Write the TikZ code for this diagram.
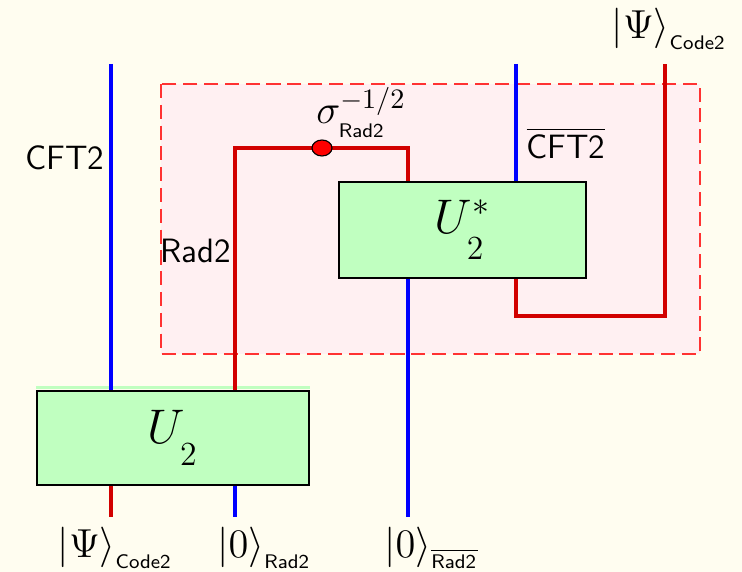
\documentclass[tikz,border=0pt]{standalone}
\usepackage{amsmath,amssymb}
\usepackage{tikz}
\usetikzlibrary{positioning,shapes.geometric}

\definecolor{bgcream}{RGB}{255,253,240}
\definecolor{boxgreen}{RGB}{192,255,192}
\definecolor{wirered}{RGB}{210,0,0}
\definecolor{wireblue}{RGB}{0,0,255}
\definecolor{zonered}{RGB}{255,50,50}
\definecolor{zonepink}{RGB}{255,240,242}

% lowered small sans subscript
\newcommand{\dn}[1]{\raisebox{-1.5pt}{$\scriptscriptstyle\textsf{#1}$}}
\newcommand{\dnu}[1]{\raisebox{-5pt}{$\scriptstyle #1$}}

\begin{document}
\begin{tikzpicture}[
  x=0.0125cm, y=-0.0125cm,
  gate/.style={draw, rectangle, fill=boxgreen, semithick, align=center, font=\LARGE},
  redw/.style={draw=wirered, line width=1.1pt},
  bluew/.style={draw=wireblue, line width=1.1pt},
  zone/.style={draw=zonered, fill=zonepink, dash pattern=on 5pt off 2.4pt, line width=0.6pt},
  lbl/.style={font=\large\sffamily},
  ket/.style={font=\Large},
  phase/.style={ellipse, draw, fill=red, minimum width=0.25cm, minimum height=0.2cm, inner sep=0pt}
]
  % Background and frame
  \fill[bgcream] (0,0) rectangle (742,572);
  \useasboundingbox (0,0) rectangle (742,572);
  \path[zone] (161,84) rectangle (700,354);

  % Nodes
  \node[gate, minimum width=3.4cm, minimum height=1.175cm] (u2) at (173,438) {$U_{\dnu{2}}$};
  \node[gate, minimum width=3.0875cm, minimum height=1.2cm] (u2s) at (462.5,230) {$U^{*}_{\dnu{2}}$};
  \fill[boxgreen] ([yshift=0.05cm]u2.north west) rectangle ([yshift=0.015cm]u2.north east);
  \coordinate (dot) at (322,148);

  \node[lbl] (cft) at (65,158) {CFT2};
  \node[lbl] (rad) at (196,251) {Rad2};
  \node[lbl] (cftbar) at (566,143) {$\overline{\text{\sffamily CFT2}}$};
  \node[ket] (sig) at (361,113) {$\sigma^{-1/2}_{\dn{Rad2}}$};
  \node[ket] (psiout) at (669,29) {$|\Psi\rangle_{\dn{Code2}}$};
  \node[ket] (psiin) at (115,548) {$|\Psi\rangle_{\dn{Code2}}$};
  \node[ket] (zerorad) at (264,548) {$|0\rangle_{\dn{Rad2}}$};
  \node[ket] (zerobar) at (431,548) {$|0\rangle_{\overline{\dn{Rad2}}}$};

  % Wire ends
  \coordinate (cfttop) at (111,64);
  \coordinate (cftbartop) at (516,64);
  \coordinate (psitop) at (665,64);
  \coordinate (psibot) at (111,517);
  \coordinate (radbot) at (235,517);
  \coordinate (barbot) at (408,517);
  \coordinate (radturn) at (235,148);
  \coordinate (cupturn) at (516,316);

  % Wires
  \draw[bluew] (cfttop) -- (cfttop |- u2.north);
  \draw[redw] (psibot |- u2.south) -- (psibot);
  \draw[bluew] (radbot |- u2.south) -- (radbot);
  \draw[redw] (radturn |- u2.north) -- (radturn) -- (dot) -- (barbot |- radturn) -- (barbot |- u2s.north);
  \draw[bluew] (barbot |- u2s.south) -- (barbot);
  \draw[bluew] (cftbartop) -- (cftbartop |- u2s.north);
  \draw[redw] (cupturn |- u2s.south) -- (cupturn) -- (psitop |- cupturn) -- (psitop);
  \node[phase] (sigdot) at (dot) {};
\end{tikzpicture}
\end{document}
